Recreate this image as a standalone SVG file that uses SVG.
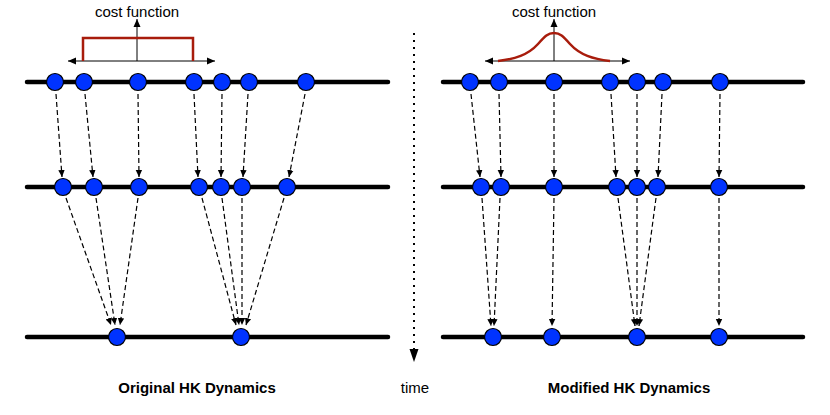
<svg xmlns="http://www.w3.org/2000/svg" width="830" height="415" viewBox="0 0 830 415">
<defs>
<marker id="ah" markerWidth="8" markerHeight="8" refX="7" refY="4" orient="auto" markerUnits="userSpaceOnUse">
<path d="M0,0.8 L7,4 L0,7.2 Z" fill="#000"/>
</marker>
<marker id="ax" markerWidth="9" markerHeight="8" refX="8" refY="4" orient="auto-start-reverse" markerUnits="userSpaceOnUse">
<path d="M0,0.5 L8,4 L0,7.5 Z" fill="#000"/>
</marker>
<marker id="tm" markerWidth="12" markerHeight="14" refX="6" refY="13" orient="0" markerUnits="userSpaceOnUse">
<path d="M1.5,0 L10.5,0 L6,13 Z" fill="#000"/>
</marker>
</defs>
<style>
.axis{stroke:#000;stroke-width:4.5;stroke-linecap:round;fill:none}
.node{fill:#0033ff;stroke:#000;stroke-width:1.2}
.c{stroke:#000;stroke-width:1.2;stroke-dasharray:5 3;fill:none;marker-end:url(#ah)}
.cf{stroke:#000;stroke-width:1;fill:none}
.cost{stroke:#a81c0c;stroke-width:2.5;fill:none}
.lbl{font-family:"Liberation Sans",Arial,sans-serif;font-size:15px;fill:#000;text-anchor:middle}
.ttl{font-family:"Liberation Sans",Arial,sans-serif;font-size:15px;font-weight:bold;fill:#000;text-anchor:middle}
</style>

<g id="left-cost">
<text class="lbl" x="137" y="17">cost function</text>
<line class="cf" x1="137" y1="61" x2="137" y2="19" marker-end="url(#ax)"/>
<line class="cf" x1="68" y1="61" x2="215" y2="61" marker-start="url(#ax)" marker-end="url(#ax)"/>
<path class="cost" d="M83,61 V38 H193 V61"/>
</g>
<g id="right-cost">
<text class="lbl" x="554" y="17">cost function</text>
<line class="cf" x1="554" y1="61" x2="554" y2="19" marker-end="url(#ax)"/>
<line class="cf" x1="485" y1="61" x2="630" y2="61" marker-start="url(#ax)" marker-end="url(#ax)"/>
<path class="cost" d="M498,61 C515,59 528,55 538,44 C545,36 548,33 554,33 C560,33 563,36 570,44 C580,55 593,59 610,61"/>
</g>

<g id="connectors">
<line class="c" x1="56" y1="94" x2="62" y2="177"/>
<line class="c" x1="85" y1="94" x2="93" y2="177"/>
<line class="c" x1="138" y1="94" x2="139" y2="177"/>
<line class="c" x1="194" y1="94" x2="198" y2="177"/>
<line class="c" x1="222" y1="94" x2="221" y2="177"/>
<line class="c" x1="248" y1="94" x2="243" y2="177"/>
<line class="c" x1="305" y1="94" x2="289" y2="177"/>
<line class="c" x1="66" y1="198" x2="111" y2="325"/>
<line class="c" x1="96" y1="198" x2="115" y2="325"/>
<line class="c" x1="138" y1="198" x2="120" y2="325"/>
<line class="c" x1="202" y1="198" x2="236" y2="325"/>
<line class="c" x1="222" y1="198" x2="239" y2="325"/>
<line class="c" x1="242" y1="198" x2="242" y2="325"/>
<line class="c" x1="284" y1="198" x2="246" y2="325"/>
<line class="c" x1="471" y1="94" x2="480" y2="177"/>
<line class="c" x1="499" y1="94" x2="501" y2="177"/>
<line class="c" x1="554" y1="94" x2="554" y2="177"/>
<line class="c" x1="611" y1="94" x2="616" y2="177"/>
<line class="c" x1="637" y1="94" x2="637" y2="177"/>
<line class="c" x1="662" y1="94" x2="658" y2="177"/>
<line class="c" x1="720" y1="94" x2="719" y2="177"/>
<line class="c" x1="482" y1="198" x2="491" y2="326"/>
<line class="c" x1="500" y1="198" x2="494" y2="326"/>
<line class="c" x1="554" y1="198" x2="552" y2="326"/>
<line class="c" x1="618" y1="198" x2="635" y2="326"/>
<line class="c" x1="637" y1="198" x2="637" y2="326"/>
<line class="c" x1="656" y1="198" x2="639" y2="326"/>
<line class="c" x1="719" y1="198" x2="719" y2="326"/>
<line x1="414" y1="33" x2="414" y2="362" stroke="#000" stroke-width="2" stroke-dasharray="2 5" marker-end="url(#tm)"/>
</g>

<g id="left-row1">
<line class="axis" x1="27" y1="82" x2="388" y2="82"/>
<circle class="node" cx="55" cy="82" r="8.5"/>
<circle class="node" cx="84" cy="82" r="8.5"/>
<circle class="node" cx="138" cy="82" r="8.5"/>
<circle class="node" cx="194" cy="82" r="8.5"/>
<circle class="node" cx="222" cy="82" r="8.5"/>
<circle class="node" cx="249" cy="82" r="8.5"/>
<circle class="node" cx="306" cy="82" r="8.5"/>
</g>
<g id="left-row2">
<line class="axis" x1="27" y1="187" x2="388" y2="187"/>
<circle class="node" cx="63" cy="187" r="8.5"/>
<circle class="node" cx="94" cy="187" r="8.5"/>
<circle class="node" cx="139" cy="187" r="8.5"/>
<circle class="node" cx="199" cy="187" r="8.5"/>
<circle class="node" cx="221" cy="187" r="8.5"/>
<circle class="node" cx="242" cy="187" r="8.5"/>
<circle class="node" cx="287" cy="187" r="8.5"/>
</g>
<g id="left-row3">
<line class="axis" x1="27" y1="337" x2="388" y2="337"/>
<circle class="node" cx="117" cy="337" r="8.5"/>
<circle class="node" cx="241" cy="337" r="8.5"/>
</g>

<g id="right-row1">
<line class="axis" x1="443" y1="82" x2="803" y2="82"/>
<circle class="node" cx="470" cy="82" r="8.5"/>
<circle class="node" cx="499" cy="82" r="8.5"/>
<circle class="node" cx="554" cy="82" r="8.5"/>
<circle class="node" cx="610" cy="82" r="8.5"/>
<circle class="node" cx="637" cy="82" r="8.5"/>
<circle class="node" cx="663" cy="82" r="8.5"/>
<circle class="node" cx="720" cy="82" r="8.5"/>
</g>
<g id="right-row2">
<line class="axis" x1="443" y1="187" x2="803" y2="187"/>
<circle class="node" cx="481" cy="187" r="8.5"/>
<circle class="node" cx="501" cy="187" r="8.5"/>
<circle class="node" cx="554" cy="187" r="8.5"/>
<circle class="node" cx="617" cy="187" r="8.5"/>
<circle class="node" cx="637" cy="187" r="8.5"/>
<circle class="node" cx="657" cy="187" r="8.5"/>
<circle class="node" cx="719" cy="187" r="8.5"/>
</g>
<g id="right-row3">
<line class="axis" x1="443" y1="337" x2="803" y2="337"/>
<circle class="node" cx="493" cy="337" r="8.5"/>
<circle class="node" cx="552" cy="337" r="8.5"/>
<circle class="node" cx="637" cy="337" r="8.5"/>
<circle class="node" cx="719" cy="337" r="8.5"/>
</g>

<g id="labels">
<text class="ttl" x="197" y="393">Original HK Dynamics</text>
<text class="ttl" x="629" y="393">Modified HK Dynamics</text>
<text class="lbl" x="415" y="393">time</text>
</g>
</svg>
